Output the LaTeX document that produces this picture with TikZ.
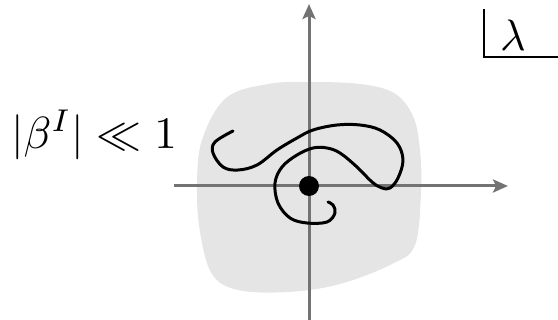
\documentclass[tikz,border=0pt]{standalone}
\usetikzlibrary{arrows.meta}
\begin{document}
\begin{tikzpicture}[x=1pt,y=-1pt]
\useasboundingbox (0,0) rectangle (558,320);
\fill[black!10] plot[smooth cycle, tension=0.6] coordinates {(202,140) (226,98) (268,84) (310,82) (360,84) (394,93) (413,116) (420,150) (421,192) (415,245) (392,264) (340,284) (288,292) (238,290) (212,274) (200,232) (197,186)};
\coordinate (xstart) at (174,186);
\coordinate (xend) at (508,186);
\coordinate (ystart) at (309,322);
\coordinate (yend) at (309,4);
\draw[black!55, line width=3pt, -{Stealth[length=15pt,width=13pt,inset=3pt]}] (xstart) -- (xend);
\draw[black!55, line width=3pt, -{Stealth[length=15pt,width=13pt,inset=3pt]}] (ystart) -- (yend);
\draw[line width=3pt, line cap=round, line join=round] plot[smooth, tension=0.6] coordinates {(233,131) (215,142) (213,153) (223,167) (238,170) (257,165) (277,150) (297,138) (313,130) (337,125) (360,125) (380,130) (397,143) (403,160) (398,178) (390,188) (382,188) (372,182) (357,167) (340,153) (327,148) (313,148) (297,155) (282,167) (275,183) (278,203) (290,218) (307,223) (327,222) (335,213) (333,205) (328,202)};
\node[circle, fill=black, inner sep=0pt, minimum size=20pt] (origin) at (309,186) {};
\node[scale=4.5] (beta) at (94,135) {$|\beta^I| \ll 1$};
\node[scale=4.4] (lambda) at (513,35) {$\lambda$};
\coordinate (ctop) at (484,9);
\coordinate (cend) at (558,57);
\draw[line width=2pt] (ctop) |- (cend);
\end{tikzpicture}
\end{document}
